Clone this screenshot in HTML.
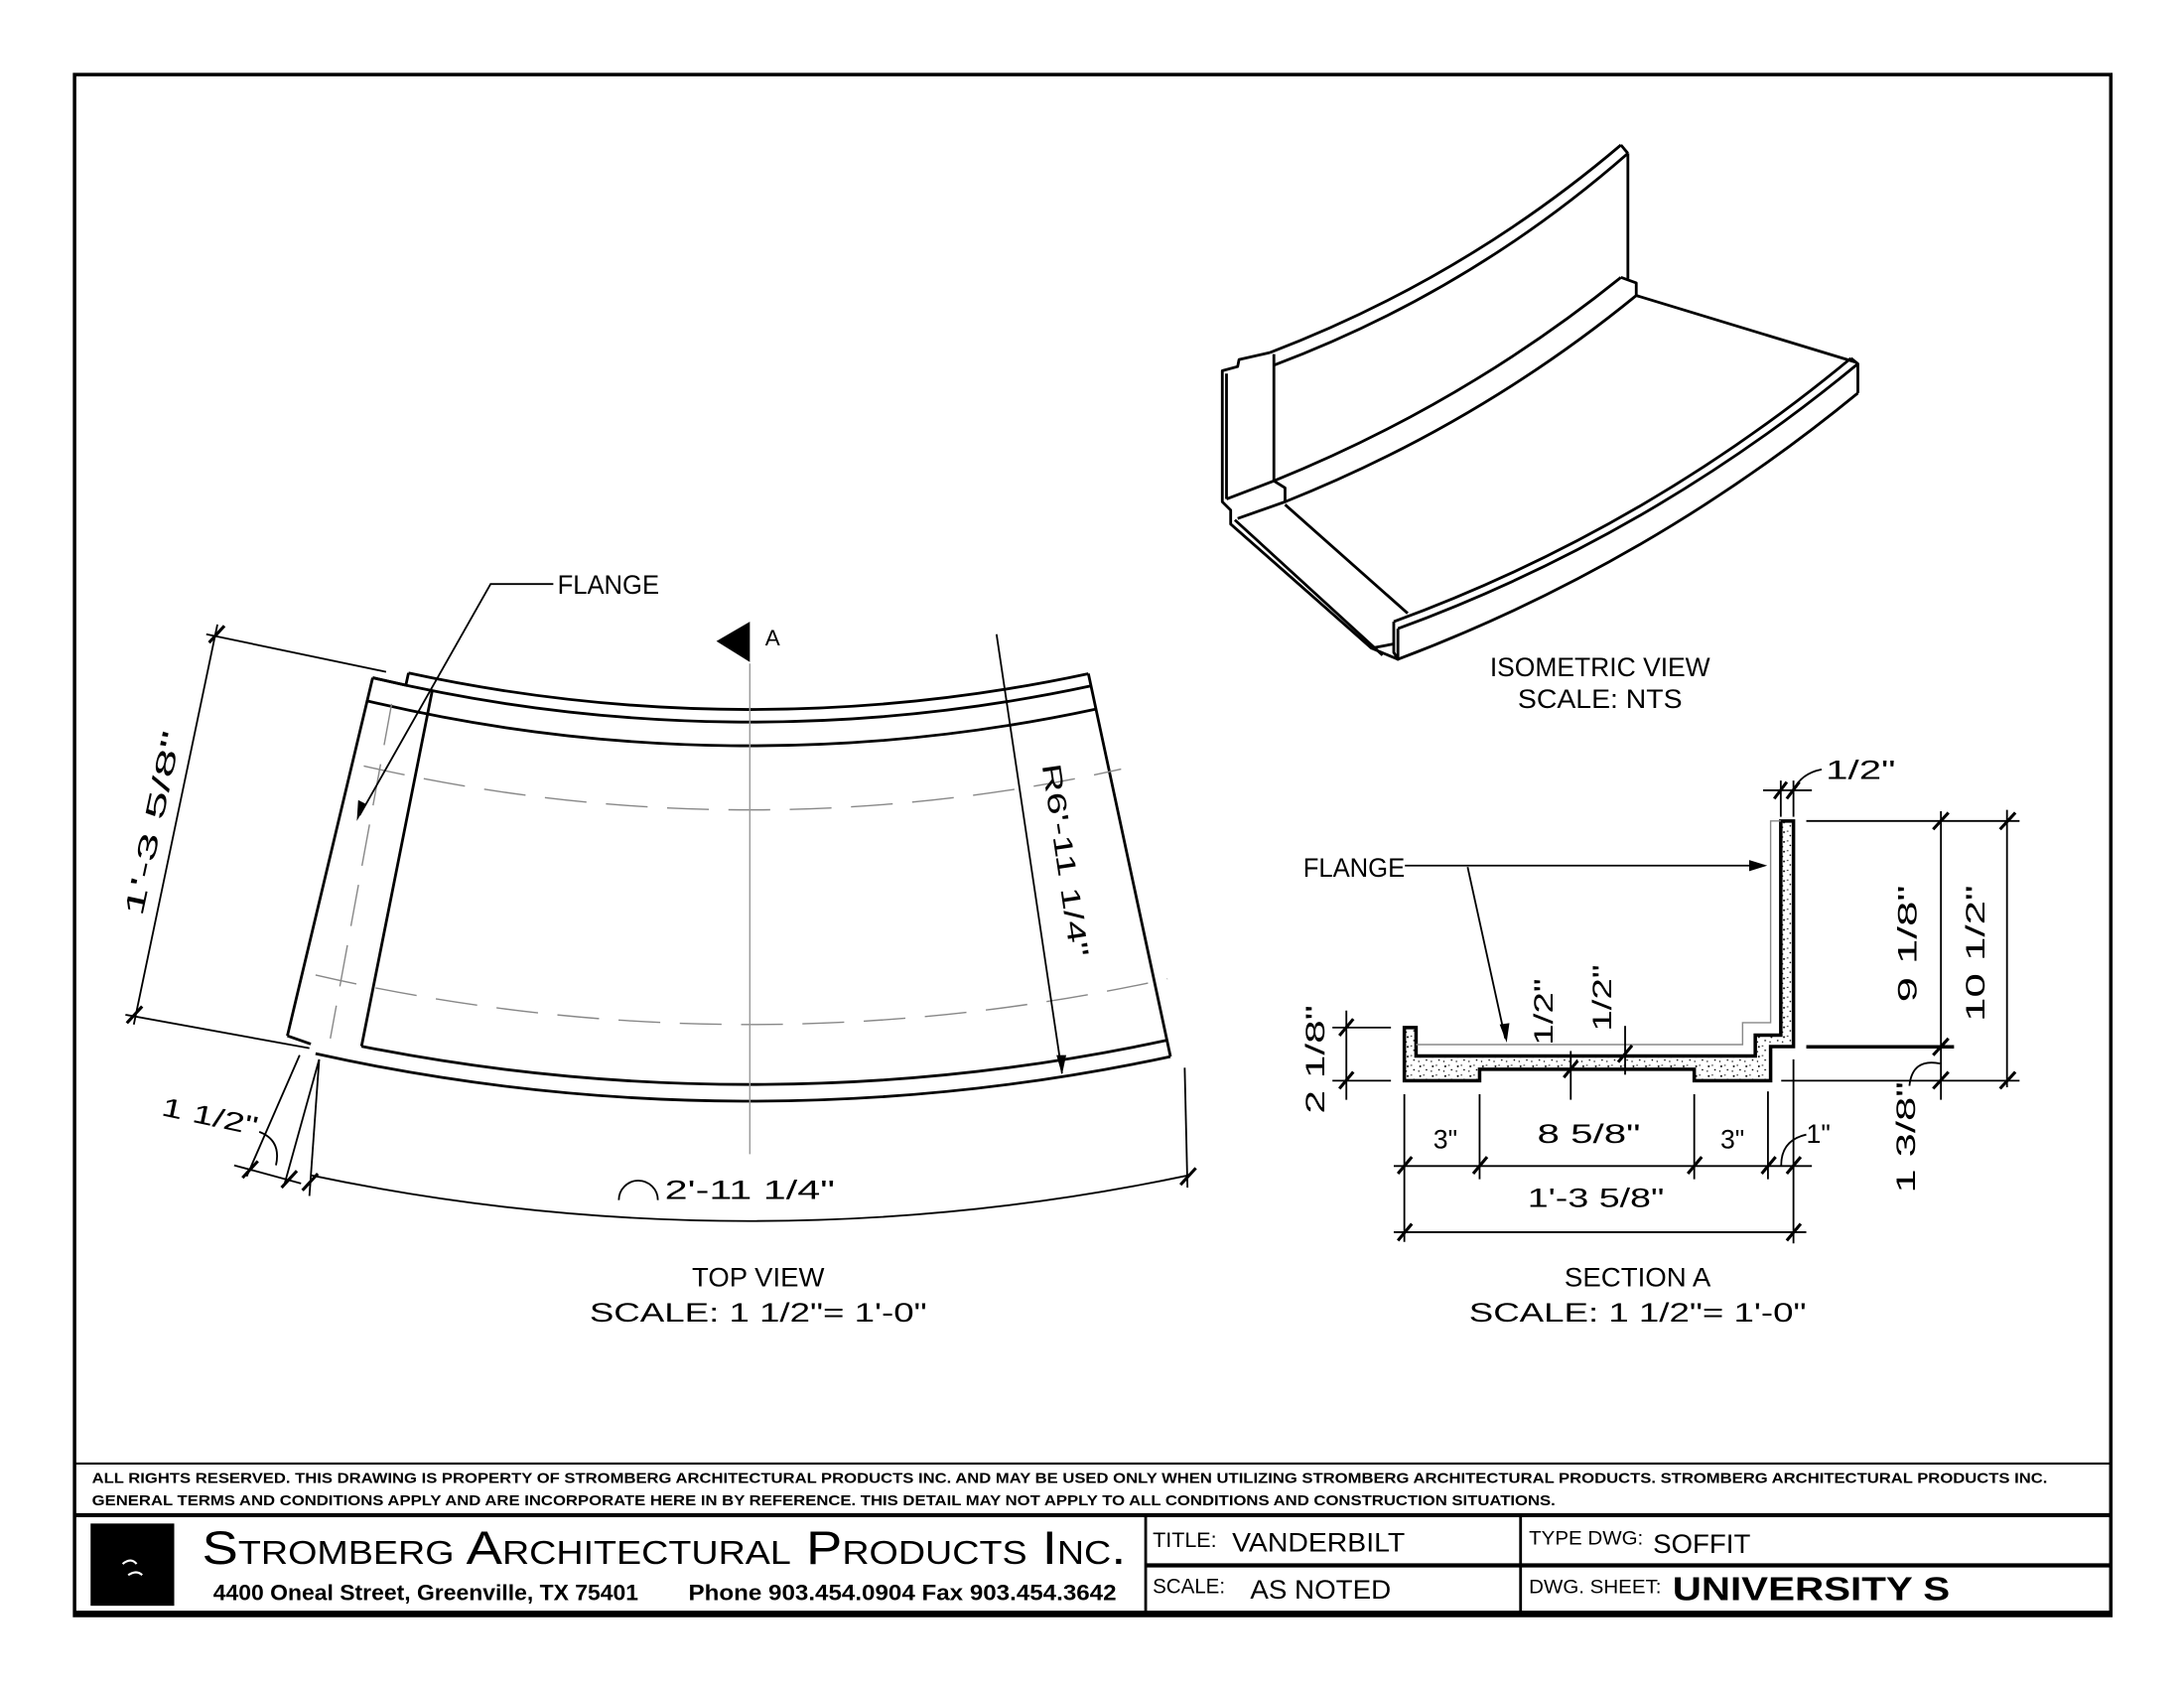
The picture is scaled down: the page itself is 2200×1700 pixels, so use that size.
<!DOCTYPE html>
<html><head><meta charset="utf-8"><style>
html,body{margin:0;padding:0;background:#fff}
svg{display:block}
text{font-family:"Liberation Sans",sans-serif;fill:#000}
.t{font-size:19px}
</style></head><body>
<svg width="2200" height="1700" viewBox="0 0 1567 1211" preserveAspectRatio="none" xmlns="http://www.w3.org/2000/svg">
<defs>
<pattern id="sp" width="9" height="7" patternUnits="userSpaceOnUse">
<rect width="9" height="7" fill="#fff"/>
<circle cx="2" cy="2" r="0.7" fill="#000"/><circle cx="6.5" cy="4.5" r="0.6" fill="#000"/><rect x="4" y="1" width="1.2" height="0.6" fill="#000"/><circle cx="1" cy="5.5" r="0.5" fill="#000"/>
</pattern>
</defs>
<rect x="0" y="0" width="1567" height="1211" fill="#fff"/>
<!-- border -->
<rect x="53.5" y="53.5" width="1461" height="1105.5" fill="none" stroke="#000" stroke-width="2.5"/>
<line x1="53" y1="1050" x2="1515" y2="1050" stroke="#000" stroke-width="1.5"/>
<line x1="53" y1="1087" x2="1515" y2="1087" stroke="#000" stroke-width="3"/>
<line x1="53" y1="1157" x2="1515" y2="1157" stroke="#000" stroke-width="3"/>
<line x1="822" y1="1087" x2="822" y2="1158" stroke="#000" stroke-width="2"/>
<line x1="1091" y1="1087" x2="1091" y2="1158" stroke="#000" stroke-width="2"/>
<line x1="822" y1="1123" x2="1515" y2="1123" stroke="#000" stroke-width="3"/>
<text x="66" y="1064" font-size="10.5" font-weight="bold" textLength="1403" lengthAdjust="spacingAndGlyphs">ALL RIGHTS RESERVED. THIS DRAWING IS PROPERTY OF STROMBERG ARCHITECTURAL PRODUCTS INC. AND MAY BE USED ONLY WHEN UTILIZING STROMBERG ARCHITECTURAL PRODUCTS.  STROMBERG ARCHITECTURAL PRODUCTS INC.</text>
<text x="66" y="1080" font-size="10.5" font-weight="bold" textLength="1050" lengthAdjust="spacingAndGlyphs">GENERAL TERMS AND CONDITIONS APPLY AND ARE INCORPORATE HERE IN BY REFERENCE.  THIS DETAIL MAY NOT APPLY TO ALL CONDITIONS AND CONSTRUCTION SITUATIONS.</text>
<rect x="65" y="1093" width="60" height="59" fill="#000"/>
<path d="M88 1122 q6 -5 10 0 M92 1130 q6 -4 10 0" stroke="#fff" stroke-width="1.5" fill="none"/>
<text x="145" y="1122" font-family="Liberation Serif,serif" font-size="34" style="font-variant:small-caps" textLength="663" lengthAdjust="spacingAndGlyphs">Stromberg Architectural Products Inc.</text>
<text x="153" y="1148" font-size="16" font-weight="bold" textLength="305" lengthAdjust="spacingAndGlyphs">4400 Oneal Street, Greenville, TX  75401</text>
<text x="494" y="1148" font-size="16" font-weight="bold" textLength="307" lengthAdjust="spacingAndGlyphs">Phone 903.454.0904   Fax 903.454.3642</text>
<text x="827" y="1110" font-size="15" textLength="46" lengthAdjust="spacingAndGlyphs">TITLE:</text>
<text x="884" y="1113" font-size="19" textLength="124" lengthAdjust="spacingAndGlyphs">VANDERBILT</text>
<text x="1097" y="1108" font-size="14" textLength="82" lengthAdjust="spacingAndGlyphs">TYPE DWG:</text>
<text x="1186" y="1114" font-size="19" textLength="70" lengthAdjust="spacingAndGlyphs">SOFFIT</text>
<text x="827" y="1143" font-size="15" textLength="52" lengthAdjust="spacingAndGlyphs">SCALE:</text>
<text x="897" y="1147" font-size="19" textLength="101" lengthAdjust="spacingAndGlyphs">AS NOTED</text>
<text x="1097" y="1143" font-size="14" textLength="95" lengthAdjust="spacingAndGlyphs">DWG. SHEET:</text>
<text x="1200" y="1148" font-size="24" font-weight="bold" textLength="199" lengthAdjust="spacingAndGlyphs">UNIVERSITY S</text>

<!-- TOP VIEW -->
<g fill="none" stroke="#000" stroke-width="2">
<path d="M293.1 482.8 A1159 1159 0 0 0 780.9 483.3"/>
<path d="M267.4 486.2 L291.2 491.6 L293.1 482.8"/>
<path d="M267.4 486.2 A1168 1168 0 0 0 782.8 492.1"/>
<path d="M263.4 502.8 A1185 1185 0 0 0 786.4 508.7"/>
<line x1="780.9" y1="483.3" x2="839.8" y2="758"/>
<line x1="267.4" y1="486.2" x2="206.2" y2="743.1"/>
<line x1="310.1" y1="495.6" x2="259.4" y2="750.6"/>
<path d="M259.4 750.6 A1428 1428 0 0 0 837.3 746.3"/>
<path d="M226.4 755.9 A1440 1440 0 0 0 839.8 758"/>
<line x1="206.2" y1="743.1" x2="223" y2="749"/>
</g>
<g fill="none" stroke="#888" stroke-width="1" stroke-dasharray="30 14">
<path d="M261 549.5 A1231 1231 0 0 0 804.4 551.8"/>
<path d="M226.4 699.5 A1385 1385 0 0 0 837.7 702.2"/>
<line x1="281" y1="505" x2="237" y2="745"/>
</g>
<line x1="538" y1="476" x2="538" y2="828" stroke="#999" stroke-width="1"/>
<polygon points="514,460 538,446 538,475" fill="#000"/>
<text x="549" y="463" font-size="16">A</text>
<g stroke="#000" stroke-width="1.3" fill="none">
<polyline points="397,419 352,419 258,585"/>
</g>
<polygon points="256,589 257,574 263,577" fill="#000"/>
<text x="400" y="426" class="t" textLength="73" lengthAdjust="spacingAndGlyphs">FLANGE</text>
<g stroke="#000" stroke-width="1.3" fill="none">
<line x1="156" y1="448" x2="96" y2="735"/>
<line x1="148" y1="455" x2="277" y2="482"/>
<line x1="90" y1="728" x2="222" y2="752"/>
<line x1="215" y1="757" x2="177" y2="844"/>
<line x1="229" y1="760" x2="204" y2="850"/>
<line x1="168" y1="836" x2="216" y2="849"/>
<line x1="229" y1="760" x2="222" y2="858"/>
<line x1="850" y1="766" x2="852" y2="852"/>
<path d="M223.3 843.2 A1526 1526 0 0 0 852.7 843.2"/>
<line x1="715" y1="455" x2="762" y2="770"/>
<path d="M186 812 q16 6 12 24"/>
<path d="M444 861 a14 14 0 0 1 28 0"/>
</g>
<g stroke="#000" stroke-width="2.2">
<line x1="150" y1="461" x2="161" y2="449"/><line x1="91" y1="734" x2="102" y2="722"/>
<line x1="174" y1="845" x2="185" y2="833"/><line x1="202" y1="852" x2="213" y2="840"/>
<line x1="217" y1="854" x2="228" y2="842"/><line x1="847" y1="850" x2="858" y2="838"/>
</g>
<polygon points="762,771 758,757 765,757" fill="#000"/>
<text transform="translate(116,592) rotate(-78)" text-anchor="middle" class="t" font-size="20" textLength="135" lengthAdjust="spacingAndGlyphs">1'-3 5/8"</text>
<text transform="translate(758,618) rotate(81.5)" text-anchor="middle" class="t" font-size="20" textLength="140" lengthAdjust="spacingAndGlyphs">R6'-11 1/4"</text>
<text transform="translate(115,800) rotate(12)" class="t" textLength="70" lengthAdjust="spacingAndGlyphs">1  1/2"</text>
<text x="477" y="860" class="t" textLength="122" lengthAdjust="spacingAndGlyphs">2'-11  1/4"</text>
<text x="544" y="923" text-anchor="middle" class="t" textLength="95" lengthAdjust="spacingAndGlyphs">TOP  VIEW</text>
<text x="544" y="948" text-anchor="middle" class="t" textLength="242" lengthAdjust="spacingAndGlyphs">SCALE:  1  1/2"=  1'-0"</text>

<!-- ISOMETRIC -->
<g fill="none" stroke="#000" stroke-width="2" stroke-linejoin="round">
<path d="M911 253 Q1050 200 1163 104"/>
<path d="M914 262 Q1055 209 1168 110"/>
<line x1="1163" y1="104" x2="1168" y2="110"/>
<line x1="1168" y1="110" x2="1168" y2="200"/>
<polyline points="911,253 889,258 888,263 877,266 877,360 883,366 883,376 984,465 1000,462"/>
<line x1="880" y1="268" x2="880" y2="358"/>
<line x1="914" y1="254" x2="914" y2="345"/>
<path d="M914 345 Q1050 290 1163 199"/>
<path d="M922 360 Q1060 305 1174 212"/>
<polyline points="1163,199 1174,203 1174,212"/>
<polyline points="880,358 914,345 922,350 922,360 888,372"/>
<line x1="1174" y1="212" x2="1332" y2="260"/>
<line x1="922" y1="362" x2="1010" y2="440"/>
<line x1="886" y1="373" x2="992" y2="470"/>
<path d="M1000 446 Q1180 380 1328 257"/>
<path d="M1003 451 Q1183 385 1333 261"/>
<path d="M1003 473 Q1183 405 1333 282"/>
<polyline points="1328,257 1333,261 1333,282"/>
<polyline points="1000,446 1000,468 1003,473 1003,451"/>
<line x1="984" y1="465" x2="1003" y2="473"/>
</g>
<text x="1148" y="485" text-anchor="middle" class="t" textLength="158" lengthAdjust="spacingAndGlyphs">ISOMETRIC  VIEW</text>
<text x="1148" y="508" text-anchor="middle" class="t" textLength="118" lengthAdjust="spacingAndGlyphs">SCALE:  NTS</text>

<!-- SECTION A -->
<polygon points="1007.6,737.2 1016,737.2 1016,757.6 1259.4,757.6 1259.4,742.6 1277.7,742.6 1277.7,589 1286.8,589 1286.8,750.8 1270.4,750.8 1270.4,775.3 1215.6,775.3 1215.6,767.1 1061.6,767.1 1061.6,775.3 1007.6,775.3" fill="url(#sp)" stroke="#000" stroke-width="2.5"/>
<polyline points="1016,749.4 1250.3,749.4 1250.3,733.7 1270.4,733.7 1270.4,589 1277.7,589" fill="none" stroke="#888" stroke-width="1"/>
<g stroke="#000" stroke-width="1.3" fill="none">
<line x1="1008" y1="621" x2="1266" y2="621"/>
<line x1="1053" y1="622" x2="1080" y2="745"/>
<line x1="1265" y1="567" x2="1300" y2="567"/>
<line x1="1277.7" y1="560" x2="1277.7" y2="586"/><line x1="1286.8" y1="560" x2="1286.8" y2="586"/>
<path d="M1287 567 q5 -12 20 -15"/>
<line x1="1296" y1="589" x2="1449" y2="589"/>
<line x1="1296" y1="751" x2="1402" y2="751" stroke-width="2.5"/>
<line x1="1278" y1="775.3" x2="1449" y2="775.3"/>
<line x1="1392.6" y1="582" x2="1392.6" y2="789"/>
<line x1="1440" y1="581" x2="1440" y2="780"/>
<path d="M1392 763 q-20 -4 -22 16"/>
<line x1="956" y1="737.2" x2="998" y2="737.2"/>
<line x1="956" y1="775.3" x2="998" y2="775.3"/>
<line x1="966" y1="725" x2="966" y2="789"/>
<line x1="1127" y1="754" x2="1127" y2="789"/><line x1="1166" y1="736" x2="1166" y2="771"/>
<line x1="1000" y1="836.5" x2="1300" y2="836.5"/>
<line x1="1000" y1="884" x2="1296" y2="884"/>
<line x1="1007.6" y1="785" x2="1007.6" y2="891"/>
<line x1="1061.6" y1="785" x2="1061.6" y2="846"/>
<line x1="1215.6" y1="785" x2="1215.6" y2="846"/>
<line x1="1268.5" y1="783" x2="1268.5" y2="846"/>
<line x1="1286.8" y1="760" x2="1286.8" y2="892"/>
<path d="M1278 836 q0 -18 18 -22"/>
</g>
<polygon points="1268,621 1255,617 1255,625" fill="#000"/>
<polygon points="1081,748 1076,735 1083,734" fill="#000"/>
<g stroke="#000" stroke-width="2.2">
<line x1="1273" y1="573" x2="1282" y2="561"/><line x1="1282" y1="573" x2="1291" y2="561"/>
<line x1="1387" y1="595" x2="1398" y2="583"/><line x1="1387" y1="757" x2="1398" y2="745"/><line x1="1387" y1="781" x2="1398" y2="769"/>
<line x1="1435" y1="595" x2="1446" y2="583"/><line x1="1435" y1="781" x2="1446" y2="769"/>
<line x1="961" y1="743" x2="971" y2="731"/><line x1="961" y1="781" x2="971" y2="769"/>
<line x1="1122" y1="773" x2="1132" y2="761"/><line x1="1161" y1="762" x2="1171" y2="750"/>
<line x1="1003" y1="842" x2="1013" y2="830"/><line x1="1057" y1="842" x2="1067" y2="830"/><line x1="1211" y1="842" x2="1221" y2="830"/>
<line x1="1264" y1="842" x2="1274" y2="830"/><line x1="1282" y1="842" x2="1292" y2="830"/>
<line x1="1003" y1="890" x2="1013" y2="878"/><line x1="1282" y1="890" x2="1292" y2="878"/>
</g>
<text x="1310" y="559" class="t" textLength="50" lengthAdjust="spacingAndGlyphs">1/2"</text>
<text x="935" y="629" class="t" textLength="73" lengthAdjust="spacingAndGlyphs">FLANGE</text>
<text transform="translate(1375,677) rotate(-90)" text-anchor="middle" class="t" textLength="84" lengthAdjust="spacingAndGlyphs">9  1/8"</text>
<text transform="translate(1424,684) rotate(-90)" text-anchor="middle" class="t" textLength="98" lengthAdjust="spacingAndGlyphs">10  1/2"</text>
<text transform="translate(1374,816) rotate(-90)" text-anchor="middle" class="t" textLength="80" lengthAdjust="spacingAndGlyphs">1  3/8"</text>
<text transform="translate(950,760) rotate(-90)" text-anchor="middle" class="t" textLength="78" lengthAdjust="spacingAndGlyphs">2  1/8"</text>
<text transform="translate(1114,726) rotate(-90)" text-anchor="middle" class="t" textLength="48" lengthAdjust="spacingAndGlyphs">1/2"</text>
<text transform="translate(1156,716) rotate(-90)" text-anchor="middle" class="t" textLength="48" lengthAdjust="spacingAndGlyphs">1/2"</text>
<text x="1037" y="824" text-anchor="middle" class="t">3"</text>
<text x="1140" y="820" text-anchor="middle" class="t" textLength="74" lengthAdjust="spacingAndGlyphs">8  5/8"</text>
<text x="1243" y="824" text-anchor="middle" class="t">3"</text>
<text x="1296" y="820" class="t">1"</text>
<text x="1145" y="866" text-anchor="middle" class="t" textLength="98" lengthAdjust="spacingAndGlyphs">1'-3  5/8"</text>
<text x="1175" y="923" text-anchor="middle" class="t" textLength="105" lengthAdjust="spacingAndGlyphs">SECTION  A</text>
<text x="1175" y="948" text-anchor="middle" class="t" textLength="242" lengthAdjust="spacingAndGlyphs">SCALE:  1  1/2"=  1'-0"</text>
</svg>
</body></html>
